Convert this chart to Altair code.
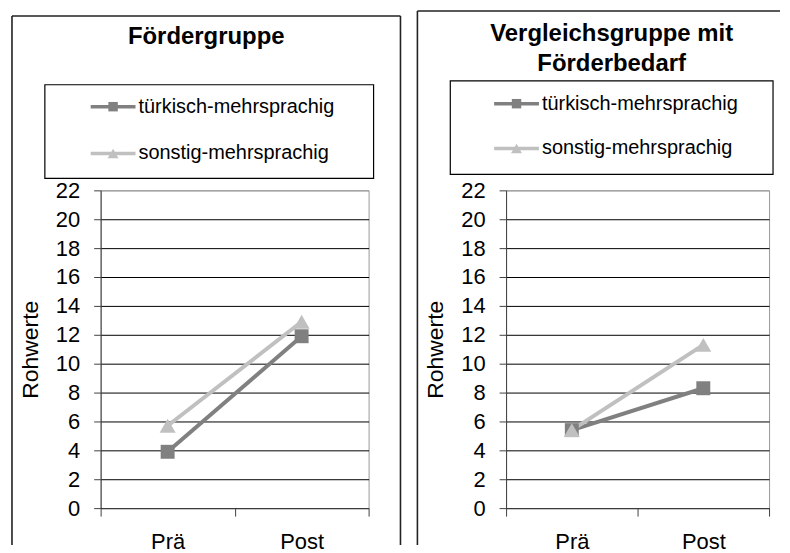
import altair as alt
import pandas as pd

# ---------------- data ----------------
categories = ["Prä", "Post"]
series_names = ["türkisch-mehrsprachig", "sonstig-mehrsprachig"]
left_tuerkisch = [3.9, 11.9]
left_sonstig = [5.7, 12.9]
right_tuerkisch = [5.4, 8.3]
right_sonstig = [5.4, 11.3]
panel_titles = ["Fördergruppe", "Vergleichsgruppe mit\nFörderbedarf"]
y_title = "Rohwerte"
y_ticks = list(range(0, 23, 2))
series_colors = ["#808080", "#c0c0c0"]
series_shapes = ["square", "triangle-up"]

FONT = "Liberation Sans"
AXIS_GRAY = "#404040"
BORDER = "#222222"


def make_df(t_vals, s_vals):
    rows = []
    for name, vals in zip(series_names, [t_vals, s_vals]):
        for i, (c, v) in enumerate(zip(categories, vals)):
            rows.append({"series": name, "cat": c, "pos": i + 0.5, "value": v})
    return pd.DataFrame(rows)


label_expr = " : ".join(
    [f"datum.value == {i} ? '{c}'" for i, c in enumerate(categories)]
) + " : ''"


def panel(df, title, W, H, g):
    n = len(categories)
    x = alt.X(
        "pos:Q",
        scale=alt.Scale(domain=[0, n], nice=False, zero=False),
        axis=alt.Axis(
            values=list(range(n + 1)),
            labelExpr=label_expr,
            labelOffset={"condition": {"test": f"datum.value >= {n}", "value": 0}, "value": W / (2 * n)},
            labelFlush=False,
            labelOverlap=False,
            grid=False,
            tickSize=8,
            tickColor=AXIS_GRAY,
            domainColor=AXIS_GRAY,
            labelFont=FONT,
            labelFontSize=22,
            labelColor="black",
            labelPadding=16,
            title=None,
        ),
    )
    y = alt.Y(
        "value:Q",
        scale=alt.Scale(domain=[0, 22], nice=False),
        axis=alt.Axis(
            values=y_ticks,
            grid=True,
            gridColor={"condition": {"test": "datum.value >= 22", "value": "#999999"}, "value": "black"},
            gridWidth=1,
            tickSize=7,
            tickColor=AXIS_GRAY,
            domainColor=AXIS_GRAY,
            labelFont=FONT,
            labelFontSize=22,
            labelColor="black",
            labelPadding=14,
            title=y_title,
            titleFont=FONT,
            titleFontSize=23,
            titleFontWeight="normal",
            titleColor="black",
            titlePadding=13,
        ),
    )
    color = alt.Color(
        "series:N", scale=alt.Scale(domain=series_names, range=series_colors), legend=None
    )
    base = alt.Chart(df)
    lines = base.mark_line(strokeWidth=4).encode(x=x, y=y, color=color)
    squares = (
        base.transform_filter(alt.datum.series == series_names[0])
        .mark_square(size=196, opacity=1)
        .encode(x=x, y=y, color=color)
    )
    triangles = (
        base.transform_filter(alt.datum.series == series_names[1])
        .mark_point(shape="triangle-up", filled=True, size=260, opacity=1)
        .encode(x=x, y=y, color=color)
    )

    one = alt.Data(values=[{"k": 0}])
    deco = []
    # panel border
    for (x1, y1, x2, y2) in g["border"]:
        deco.append(
            alt.Chart(one).mark_rule(color=BORDER, strokeWidth=1.6).encode(
                x=alt.value(x1), y=alt.value(y1), x2=alt.value(x2), y2=alt.value(y2)
            )
        )
    # legend box
    bx1, by1, bx2, by2 = g["legbox"]
    deco.append(
        alt.Chart(one).mark_rect(fillOpacity=0, stroke="black", strokeWidth=1.2).encode(
            x=alt.value(bx1), y=alt.value(by1), x2=alt.value(bx2), y2=alt.value(by2)
        )
    )
    # legend entries
    lx = g["legX"]
    for i, name in enumerate(series_names):
        ry = g["legY"] + i * g["legStep"]
        deco.append(
            alt.Chart(one).mark_rule(color=series_colors[i], strokeWidth=3.5).encode(
                x=alt.value(lx), x2=alt.value(lx + 45), y=alt.value(ry), y2=alt.value(ry)
            )
        )
        deco.append(
            alt.Chart(one).mark_point(
                shape=series_shapes[i], filled=True, opacity=1, color=series_colors[i],
                size=90 if i == 0 else 120,
            ).encode(x=alt.value(lx + 22.5), y=alt.value(ry))
        )
        deco.append(
            alt.Chart(one).mark_text(
                font=FONT, fontSize=20, align="left", baseline="middle", color="black"
            ).encode(x=alt.value(lx + 48), y=alt.value(ry), text=alt.value(name))
        )
    # panel title
    deco.append(
        alt.Chart(one).mark_text(
            font=FONT, fontSize=24, fontWeight="bold", align="center", baseline="middle",
            lineBreak="\n", lineHeight=30, color="black",
        ).encode(x=alt.value(g["titleX"]), y=alt.value(g["titleY"]), text=alt.value(title))
    )
    return alt.layer(lines, squares, triangles, *deco).properties(width=W, height=H)


left_geo = {
    "border": [(-89, -175, -89, 356), (-89, -175, 301, -175), (301, -175, 301, 356)],
    "legbox": (-56, -106, 274, -12),
    "legX": -10, "legY": -84, "legStep": 47,
    "titleX": 106, "titleY": -154,
}
right_geo = {
    "border": [(-89, -180, -89, 356), (-89, -180, 275, -180)],
    "legbox": (-56, -110, 268, -16),
    "legX": -12, "legY": -87, "legStep": 45,
    "titleX": 106, "titleY": -157,
}

left = panel(make_df(left_tuerkisch, left_sonstig), panel_titles[0], 269, 319, left_geo)
right = panel(make_df(right_tuerkisch, right_sonstig), panel_titles[1], 264, 319, right_geo)

chart = (
    alt.hconcat(left, right, spacing=138, bounds="flush")
    .resolve_scale(color="independent")
    .properties(padding={"left": 2, "top": 0, "right": 0, "bottom": 0}, background="white")
    .configure_view(stroke="#999999", strokeWidth=1)
)

chart.save("out.html", embed_options={"renderer": "svg", "actions": False})
